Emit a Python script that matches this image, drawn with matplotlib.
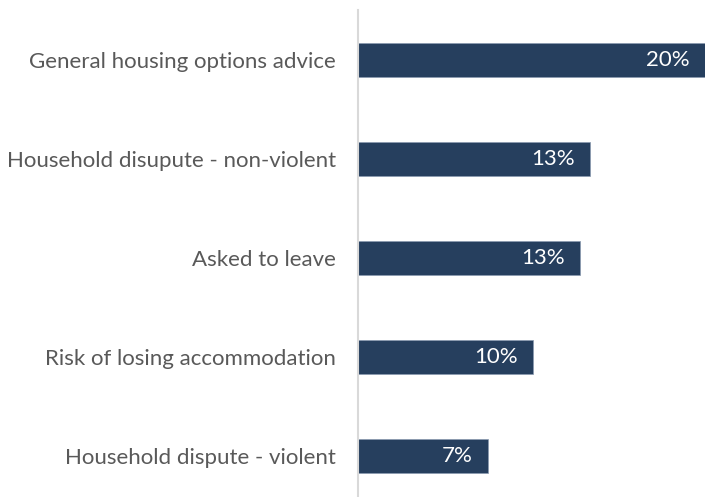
import matplotlib
matplotlib.use("Agg")
import matplotlib.pyplot as plt

categories = ["General housing options advice", "Household disupute - non-violent",
              "Asked to leave", "Risk of losing accommodation", "Household dispute - violent"]
values = [20.0, 13.4, 12.8, 10.1, 7.5]
labels = ["20%", "13%", "13%", "10%", "7%"]

plt.rcParams['font.family'] = ['Lato', 'DejaVu Sans']

fig = plt.figure(figsize=(7.05, 4.97), dpi=100)
W, H = 705, 497
ax = fig.add_axes([358 / W, 0, 1 - 358 / W, (497 - 10) / H])

pos = list(range(len(categories)))
bars = ax.barh(pos, values, height=0.35, color="#263f5e", edgecolor="#8a9bb0", linewidth=0.5)
ax.set_ylim(4.414, -0.505)
ax.set_xlim(0, 20)
ax.set_yticks(pos)
ax.set_yticklabels(categories, fontsize=16, color="#595959")
ax.tick_params(axis="y", length=0, pad=16)
ax.set_xticks([])
for s in ["top", "right", "bottom"]:
    ax.spines[s].set_visible(False)
ax.spines["left"].set_color("#d9d9d9")
ax.spines["left"].set_linewidth(1.5)

for p, v, t in zip(pos, values, labels):
    ax.annotate(t, xy=(v, p), xytext=(-11, 0), textcoords="offset points",
                ha="right", va="center", color="white", fontsize=16)

fig.savefig("out.png", dpi=100)
